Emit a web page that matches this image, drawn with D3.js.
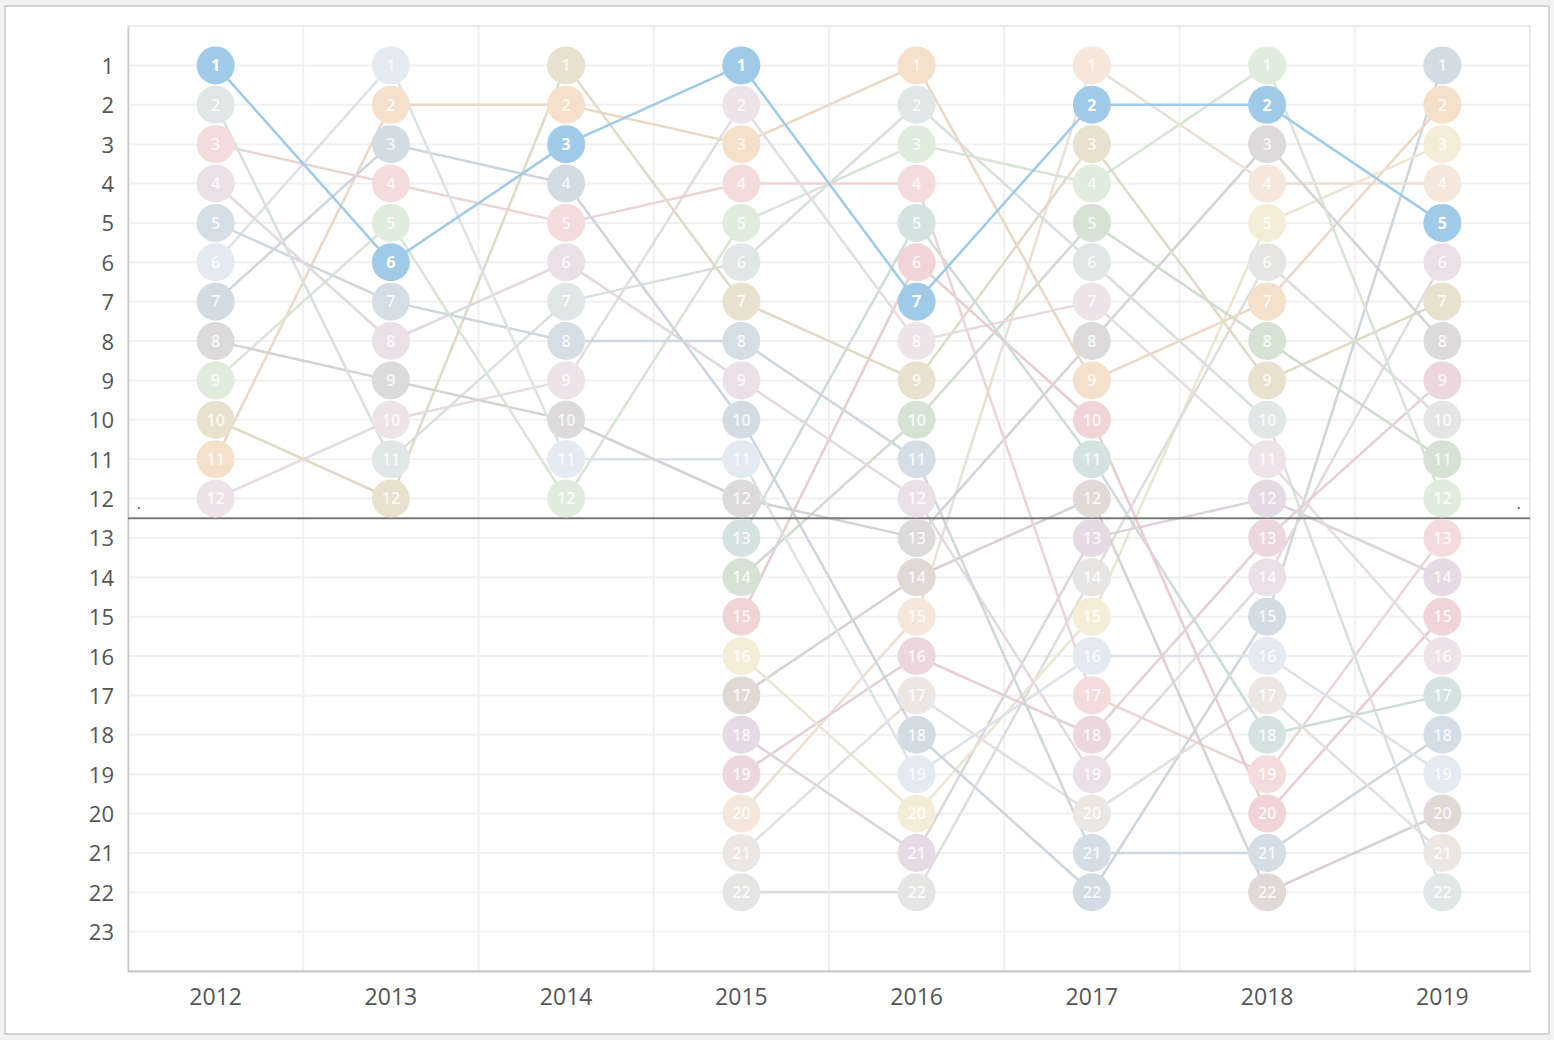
<!DOCTYPE html>
<html>
<head>
<meta charset="utf-8">
<script src="https://cdn.jsdelivr.net/npm/d3@7"></script>
<style>
  body { margin: 0; background: #f3f3f3; }
  svg text { font-family: "Open Sans", "Noto Sans", sans-serif; }
</style>
</head>
<body>
<script>
"use strict";

///////////////////
// data
///////////////////

var years = [2012, 2013, 2014, 2015, 2016, 2017, 2018, 2019];
var rankTicks = d3.range(1, 24);
var cutRank = 12.5; // reference line between 12 and 13

// team keys and their (faded) colours
var teamKeys = ["blue", "lteal", "pink", "lpurple", "gb1", "vlblue", "gb2", "gray",
    "lgreen", "olive", "orange", "lpink", "teal", "green", "red", "yellow",
    "brown", "purple", "magenta", "peach", "lbrown", "lgray"];
var teamColors = ["#9fcae8", "#dfe8e6", "#f4dcdc", "#ebe0e8", "#d5dee6", "#e3eaf1", "#d3dce5", "#dddadb",
    "#e0ecdc", "#e8e1cd", "#f4e0cb", "#eee3e8", "#d4e3e1", "#d6e3d4", "#f1d4d5", "#f4eed9",
    "#e0d9d6", "#e6dae4", "#ecd7df", "#f5e7dc", "#ede7e4", "#e6e5e4"];
var highlighted = "blue";

// finishing order per year (index 0 = rank 1)
var order2012 = ["blue", "lteal", "pink", "lpurple", "gb1", "vlblue", "gb2", "gray", "lgreen", "olive", "orange", "lpink"];
var order2013 = ["vlblue", "orange", "gb2", "pink", "lgreen", "blue", "gb1", "lpurple", "gray", "lpink", "lteal", "olive"];
var order2014 = ["olive", "orange", "blue", "gb2", "pink", "lpurple", "lteal", "gb1", "lpink", "gray", "vlblue", "lgreen"];
var order2015 = ["blue", "lpink", "orange", "pink", "lgreen", "lteal", "olive", "gb1", "lpurple", "gb2", "vlblue",
    "gray", "teal", "green", "red", "yellow", "brown", "purple", "magenta", "peach", "lbrown", "lgray"];
var order2016 = ["orange", "lteal", "lgreen", "pink", "teal", "red", "blue", "lpink", "olive", "green", "gb1",
    "lpurple", "gray", "brown", "peach", "magenta", "lbrown", "gb2", "vlblue", "yellow", "purple", "lgray"];
var order2017 = ["peach", "blue", "olive", "lgreen", "green", "lteal", "lpink", "gray", "orange", "red", "teal",
    "brown", "purple", "lgray", "yellow", "vlblue", "pink", "magenta", "lpurple", "lbrown", "gb1", "gb2"];
var order2018 = ["lgreen", "blue", "gray", "peach", "yellow", "lgray", "orange", "green", "olive", "lteal", "lpink",
    "purple", "magenta", "lpurple", "gb2", "vlblue", "lbrown", "teal", "pink", "red", "gb1", "brown"];
var order2019 = ["gb2", "orange", "yellow", "peach", "blue", "lpurple", "olive", "gray", "magenta", "lgray", "green",
    "lgreen", "pink", "purple", "red", "lpink", "teal", "gb1", "vlblue", "brown", "lbrown", "lteal"];

var orders = [order2012, order2013, order2014, order2015, order2016, order2017, order2018, order2019];

///////////////////
// build marks
///////////////////

var color = d3.scaleOrdinal().domain(teamKeys).range(teamColors);

// one point per team per year
var points = [];
orders.forEach(function(order, i) {
    order.forEach(function(team, r) {
        points.push({ "year": years[i], "team": team, "rank": r + 1 });
    });
});

// line segments between consecutive years for the same team
var segments = [];
for (var i = 1; i < orders.length; i++) {
    orders[i].forEach(function(team, r) {
        var prev = orders[i - 1].indexOf(team);
        if (prev >= 0) {
            segments.push({ "team": team, "y0": years[i - 1], "r0": prev + 1, "y1": years[i], "r1": r + 1 });
        }
    });
}

///////////////////
// draw
///////////////////

(function() {
    var W = 1554, H = 1040;
    var left = 128, right = 1530, top = 26, bottom = 971;
    var radius = 19;

    var svg = d3.select("body").append("svg")
        .attr("width", W).attr("height", H);

    // card
    svg.append("rect")
        .attr("x", 5).attr("y", 6).attr("width", 1544).attr("height", 1028)
        .attr("fill", "#ffffff").attr("stroke", "#d6d6d6").attr("stroke-width", 2);

    var x = d3.scaleBand().domain(years).range([left, right]).padding(0);
    var y = d3.scaleLinear().domain([0, 24]).range([top, bottom]);
    var cx = function(yr) { return x(yr) + x.bandwidth() / 2; };

    // grid
    svg.append("g").selectAll("line")
        .data(rankTicks).enter().append("line")
        .attr("x1", left).attr("x2", right)
        .attr("y1", function(d) { return y(d); })
        .attr("y2", function(d) { return y(d); })
        .attr("stroke", "#f0f0f0").attr("stroke-width", 2);
    svg.append("g").selectAll("line")
        .data(years.slice(1)).enter().append("line")
        .attr("x1", function(d) { return x(d); })
        .attr("x2", function(d) { return x(d); })
        .attr("y1", top).attr("y2", bottom)
        .attr("stroke", "#f0f0f0").attr("stroke-width", 2);

    // frame
    svg.append("rect")
        .attr("x", left).attr("y", top).attr("width", right - left).attr("height", bottom - top)
        .attr("fill", "none").attr("stroke", "#d8d8d8").attr("stroke-width", 1);

    // axes
    var yAxis = svg.append("g")
        .attr("transform", "translate(" + left + ",1)")
        .call(d3.axisLeft(y).tickValues(rankTicks).tickSize(0).tickPadding(14));
    yAxis.select(".domain").attr("stroke", "#c8c8c8").attr("stroke-width", 1.5);
    yAxis.selectAll("text").attr("font-size", 22).attr("fill", "#555");

    var xAxis = svg.append("g")
        .attr("transform", "translate(0," + bottom + ")")
        .call(d3.axisBottom(x).tickSize(0).tickPadding(18));
    xAxis.select(".domain").attr("stroke", "#c8c8c8").attr("stroke-width", 2);
    xAxis.selectAll("text").attr("font-size", 23).attr("fill", "#555");

    var faded = segments.filter(function(d) { return d.team !== highlighted; });
    var hot = segments.filter(function(d) { return d.team === highlighted; });

    // faded lines
    svg.append("g").selectAll("line")
        .data(faded).enter().append("line")
        .attr("x1", function(d) { return cx(d.y0); })
        .attr("y1", function(d) { return y(d.r0); })
        .attr("x2", function(d) { return cx(d.y1); })
        .attr("y2", function(d) { return y(d.r1); })
        .attr("stroke", function(d) { return d3.color(color(d.team)).darker(0.1); })
        .attr("stroke-width", 2.5);

    // reference line
    svg.append("line")
        .attr("x1", left).attr("x2", right)
        .attr("y1", y(cutRank)).attr("y2", y(cutRank))
        .attr("stroke", "#7a7a7a").attr("stroke-width", 2);
    svg.selectAll("text.refdot")
        .data([left + 9, right - 13]).enter().append("text")
        .attr("class", "refdot")
        .attr("x", function(d) { return d; })
        .attr("y", y(cutRank) - 9)
        .attr("font-size", 14).attr("fill", "#333")
        .text(".");

    // faded circles
    var fadedPts = points.filter(function(d) { return d.team !== highlighted; });
    var hotPts = points.filter(function(d) { return d.team === highlighted; });

    var g1 = svg.append("g").selectAll("g")
        .data(fadedPts).enter().append("g")
        .attr("transform", function(d) { return "translate(" + cx(d.year) + "," + y(d.rank) + ")"; });
    g1.append("circle").attr("r", radius).attr("fill", function(d) { return color(d.team); });
    g1.append("text")
        .attr("text-anchor", "middle").attr("dy", "0.36em")
        .attr("font-size", 16).attr("font-weight", 600)
        .attr("fill", "#ffffff").attr("fill-opacity", 0.8)
        .text(function(d) { return d.rank; });

    // highlighted team on top
    svg.append("g").selectAll("line")
        .data(hot).enter().append("line")
        .attr("x1", function(d) { return cx(d.y0); })
        .attr("y1", function(d) { return y(d.r0); })
        .attr("x2", function(d) { return cx(d.y1); })
        .attr("y2", function(d) { return y(d.r1); })
        .attr("stroke", color(highlighted))
        .attr("stroke-width", 2.5);

    var g2 = svg.append("g").selectAll("g")
        .data(hotPts).enter().append("g")
        .attr("transform", function(d) { return "translate(" + cx(d.year) + "," + y(d.rank) + ")"; });
    g2.append("circle").attr("r", radius).attr("fill", color(highlighted));
    g2.append("text")
        .attr("text-anchor", "middle").attr("dy", "0.36em")
        .attr("font-size", 16).attr("font-weight", 700).attr("fill", "#ffffff")
        .text(function(d) { return d.rank; });
})();
</script>
</body>
</html>
